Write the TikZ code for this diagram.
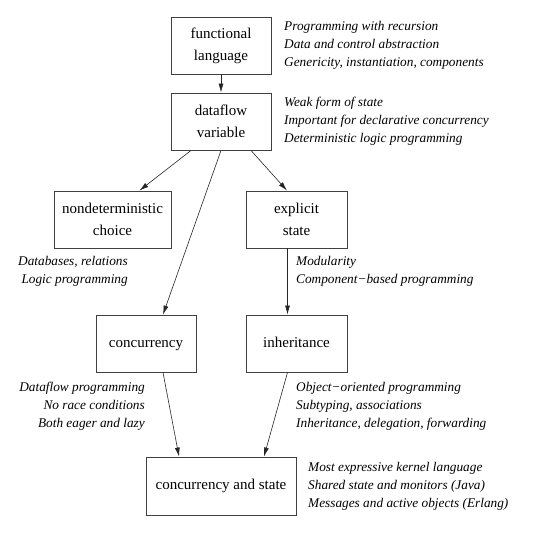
\documentclass[tikz,border=0pt]{standalone}
\usepackage{fontspec}
\setmainfont{Liberation Serif}
\usetikzlibrary{arrows.meta}
\tikzstyle{concept} = [rectangle, minimum width=100pt, minimum height=57pt, inner sep=2pt, align=center, draw=black!75, line width=0.9pt, font=\fontsize{15}{22}\selectfont]
\tikzstyle{oneline} = [text height=10.5pt, text depth=3.5pt]
\tikzstyle{note} = [inner sep=0pt, font=\fontsize{13.3}{18}\selectfont\itshape]
\tikzstyle{arrow} = [line width=0.6pt, draw=black!85, -{Latex[length=9pt,width=5pt]}]

\begin{document}
\begin{tikzpicture}[node distance=76pt]
        \useasboundingbox (0,0) rectangle (556pt,-535pt);
        \node (func) [concept] at (221pt,-45.5pt) {functional\\language};
        \node (dfvar) [concept, below of=func] {dataflow\\variable};
        \node (nd) [concept, minimum width=117pt, below of=dfvar, xshift=-108.5pt, yshift=-22pt] {nondeterministic\\choice};
        \node (es) [concept, minimum width=101pt, below of=dfvar, xshift=75.5pt, yshift=-22pt] {explicit\\state};
        \node (conc) [concept, oneline, below of=nd, xshift=33.5pt, yshift=-48pt] {concurrency};
        \node (inh) [concept, oneline, minimum width=101pt, below of=es, yshift=-48pt] {inheritance};
        \node (cs) [concept, oneline, minimum width=150pt, minimum height=58pt, below of=conc, xshift=75pt, yshift=-66.5pt] {concurrency and state};

        \node (funcnote) [note, anchor=north west, align=left] at (284pt,-21.5pt) {Programming with recursion\\Data and control abstraction\\Genericity, instantiation, components};
        \node (dfnote) [note, anchor=north west, align=left] at (284pt,-97pt) {Weak form of state\\Important for declarative concurrency\\Deterministic logic programming};
        \node (ndnote) [note, anchor=north east, align=right] at (128pt,-256pt) {Databases, relations\\Logic programming};
        \node (esnote) [note, anchor=north west, align=left] at (296pt,-256pt) {Modularity\\Component−based programming};
        \node (concnote) [note, anchor=north east, align=right] at (145pt,-382pt) {Dataflow programming\\No race conditions\\Both eager and lazy};
        \node (inhnote) [note, anchor=north west, align=left] at (296pt,-382pt) {Object−oriented programming\\Subtyping, associations\\Inheritance, delegation, forwarding};
        \node (csnote) [note, anchor=north west, align=left] at (308pt,-462pt) {Most expressive kernel language\\Shared state and monitors (Java)\\Messages and active objects (Erlang)};

        \draw[arrow] (func) -- (dfvar);
        \draw[arrow] ([xshift=-30pt]dfvar.south) -- ([xshift=27pt]nd.north);
        \draw[arrow] (dfvar.south) -- ([xshift=17pt]conc.north);
        \draw[arrow] ([xshift=30pt]dfvar.south) -- ([xshift=-9.5pt]es.north);
        \draw[arrow] ([xshift=-9pt]es.south) -- ([xshift=-9pt]inh.north);
        \draw[arrow] ([xshift=17pt]conc.south) -- ([xshift=-42pt]cs.north);
        \draw[arrow] ([xshift=-9pt]inh.south) -- ([xshift=43pt]cs.north);
    \end{tikzpicture}
\end{document}
